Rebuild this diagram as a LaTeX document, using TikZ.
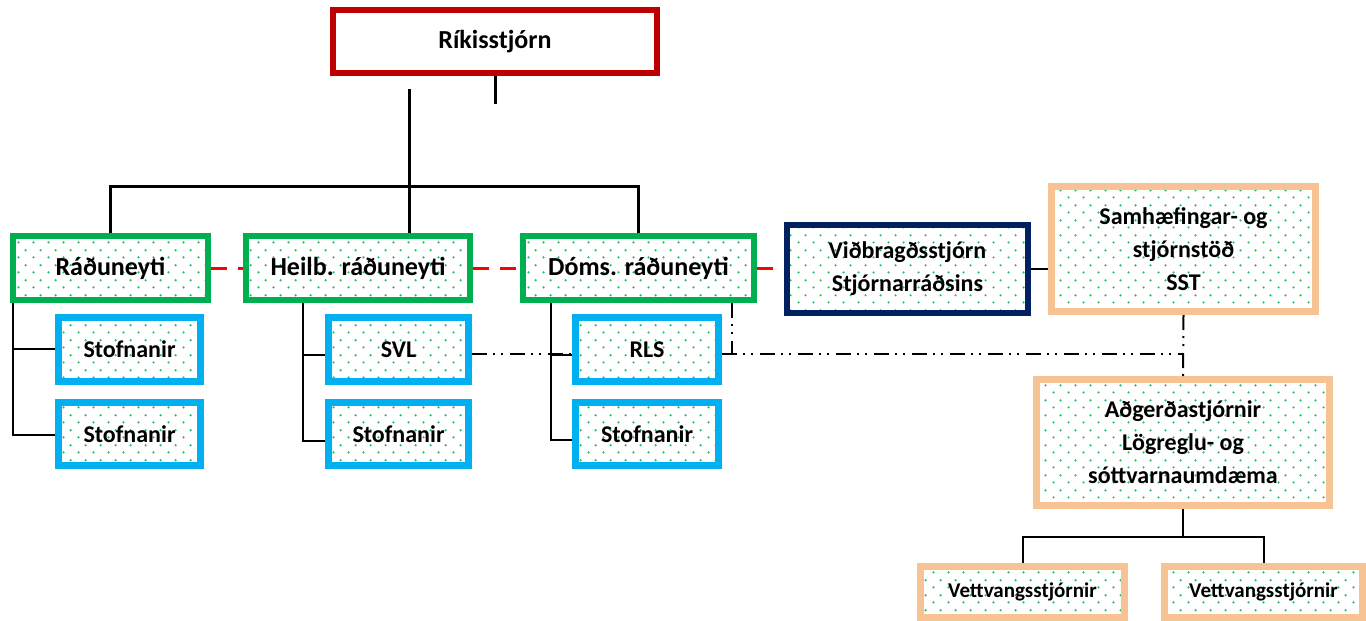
\documentclass[tikz,border=0pt]{standalone}
\usepackage{fontspec}
\setmainfont{Carlito}
\usetikzlibrary{patterns}
\definecolor{rikred}{HTML}{C00000}
\definecolor{mingreen}{HTML}{00B050}
\definecolor{stoblue}{HTML}{00B0F0}
\definecolor{navyblue}{HTML}{002060}
\definecolor{peach}{RGB}{248,195,148}
\definecolor{dotgreen}{RGB}{30,195,100}
\definecolor{dashred}{HTML}{FF0000}
\pgfdeclarepatternformonly{greendots}{\pgfqpoint{0pt}{0pt}}{\pgfqpoint{15pt}{15pt}}{\pgfqpoint{15pt}{15pt}}{%
  \pgfpathcircle{\pgfqpoint{3.75pt}{3.75pt}}{1.3pt}%
  \pgfpathcircle{\pgfqpoint{11.25pt}{11.25pt}}{1.3pt}%
  \pgfusepath{fill}}
\begin{document}
\begin{tikzpicture}[x=1pt,y=-1pt,
  basebox/.style={draw, rectangle, inner sep=0pt, align=center,
    preaction={fill=white}, preaction={pattern=greendots, pattern color=dotgreen}},
  rikbox/.style={draw=rikred, line width=6pt, fill=white, rectangle, inner sep=0pt,
    font=\bfseries\fontsize{26}{33}\selectfont},
  minbox/.style={basebox, draw=mingreen, line width=6pt, minimum height=64pt,
    font=\bfseries\fontsize{26}{33}\selectfont},
  stobox/.style={basebox, draw=stoblue, line width=7pt, minimum width=142pt,
    font=\bfseries\fontsize{24}{33}\selectfont},
  navybox/.style={basebox, draw=navyblue, line width=6pt,
    font=\bfseries\fontsize{24}{33}\selectfont},
  peachbox/.style={basebox, draw=peach, line width=7pt,
    font=\bfseries\fontsize{24}{33}\selectfont},
  vetbox/.style={basebox, draw=peach, line width=7pt, minimum height=51pt,
    font=\bfseries\fontsize{21}{30}\selectfont},
  thickline/.style={draw=black, line width=3pt, line join=miter},
  thinline/.style={draw=black, line width=2pt, line join=miter},
  reddash/.style={draw=dashred, line width=3pt, dash pattern=on 16pt off 11pt},
  ddd/.style={draw=black, line width=2pt, dash pattern=on 15pt off 6pt on 2pt off 6pt on 2pt off 7pt}
]
\useasboundingbox (0,0) rectangle (1366,621);

% nodes
\node[rikbox, minimum width=324pt, minimum height=63pt] (rik) at (495,41.5) {Ríkisstjórn};
\node[minbox, minimum width=195pt] (rad) at (110.5,268) {Ráðuneyti};
\node[minbox, minimum width=224pt] (heil) at (358,268) {Heilb. ráðuneyti};
\node[minbox, minimum width=231pt] (doms) at (638.5,268) {Dóms. ráðuneyti};

\node[stobox, minimum height=64pt] (st1) at (129.5,349.5) {Stofnanir};
\node[stobox, minimum height=63pt] (st2) at (129.5,434) {Stofnanir};
\node[stobox, minimum height=64pt, minimum width=140pt] (svl) at (398.5,349.5) {SVL};
\node[stobox, minimum height=63pt, minimum width=140pt] (st3) at (398.5,434) {Stofnanir};
\node[stobox, minimum height=64pt, minimum width=143pt] (rls) at (647,349.5) {RLS};
\node[stobox, minimum height=63pt, minimum width=143pt] (st4) at (647,434) {Stofnanir};

\node[navybox, minimum width=241pt, minimum height=88pt] (vid) at (907.5,269) {Viðbragðsstjórn\\Stjórnarráðsins};
\node[peachbox, minimum width=264pt, minimum height=125pt] (samh) at (1183.5,249) {Samhæfingar- og\\stjórnstöð\\SST};
\node[peachbox, minimum width=293pt, minimum height=126pt] (adg) at (1183,442.5) {Aðgerðastjórnir\\Lögreglu- og\\sóttvarnaumdæma};
\node[vetbox, minimum width=204pt] (vet1) at (1022.5,592) {Vettvangsstjórnir};
\node[vetbox, minimum width=198pt] (vet2) at (1263.5,592) {Vettvangsstjórnir};

% coordinates
\coordinate (topfree) at (409,89);
\coordinate (hbar) at (0,186);
\coordinate (rb1) at (13,349);
\coordinate (rb2) at (13,435);
\coordinate (hb1) at (303,355);
\coordinate (hb2) at (303,441);
\coordinate (db1) at (551,355);
\coordinate (db2) at (551,440);
\coordinate (ab) at (1183,537);
\coordinate (jl) at (732,354);
\coordinate (jr) at (1183,354);

% main tree
\draw[thickline] (rik.south) -- ++(0,28);
\draw[thickline] (topfree) -- (topfree |- heil.north);
\draw[thickline] (rad.north) |- (doms.north |- hbar) -- (doms.north);

% sub trees
\draw[thinline] (rb2 |- rad.south) -- (rb2) -- (rb2 -| st2.west);
\draw[thinline] (rb1) -- (rb1 -| st1.west);
\draw[thinline] (hb2 |- heil.south) -- (hb2) -- (hb2 -| st3.west);
\draw[thinline] (hb1) -- (hb1 -| svl.west);
\draw[thinline] (db2 |- doms.south) -- (db2) -- (db2 -| st4.west);
\draw[thinline] (db1) -- (db1 -| rls.west);

% red dashed links
\draw[reddash] (rad.east) -- (heil.west);
\draw[reddash] (heil.east) -- (doms.west);
\draw[reddash] (doms.east) -- (doms.east -| vid.west);

% vid - samh
\draw[thinline] (vid.east) -- (vid.east -| samh.west);

% dash-dot-dot links
\draw[ddd] (jl |- doms.south) -- (jl);
\draw[ddd] (svl.east |- jl) -- (rls.west |- jl);
\draw[ddd] (rls.east |- jl) -- (jr);
\draw[ddd] (samh.south) -- (adg.north);

% adg tree
\draw[thinline] (adg.south) -- (ab);
\draw[thinline] (vet1.north) |- (ab -| vet2.north) -- (vet2.north);
\end{tikzpicture}
\end{document}
